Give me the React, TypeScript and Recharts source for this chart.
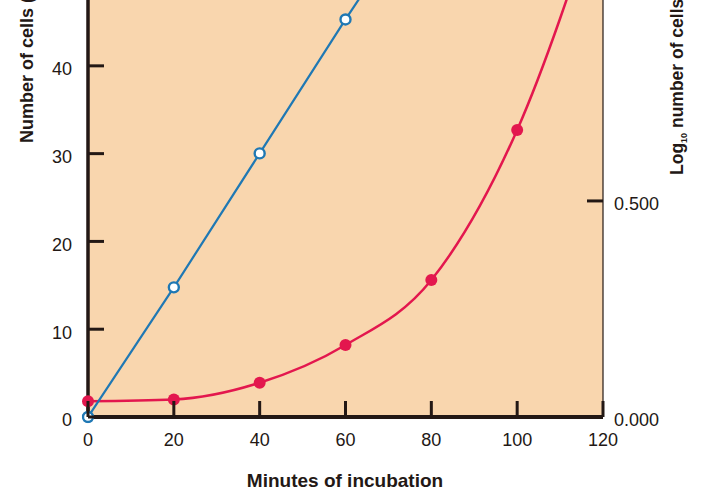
import React from 'react';
import { ComposedChart, Line, XAxis, YAxis, CartesianGrid, Label } from 'recharts';

// minutes of incubation
const minutes = [0, 20, 40, 60, 80, 100, 120];
// arithmetic number of cells (red curve, left axis) - last point runs off the top
const cellCounts = [1.8, 2.0, 3.9, 8.2, 15.6, 32.7, 60];
// log10 number of cells (blue line, right axis) - 80 min point runs off the top
const logCells = [0, 0.3, 0.61, 0.92, 1.22, null, null];

const xTicks = [0, 20, 40, 60, 80, 100, 120];
const leftTicks = [0, 10, 20, 30, 40];
const rightTicks = [0, 0.5];

const data = minutes.map((m, i) => ({ min: m, cells: cellCounts[i], log: logCells[i] }));

const INK = '#231815';
const PEACH = '#F9D6AE';
const BLUE = '#1F78B4';
const RED = '#E3174E';
const FONT = '"Liberation Sans", Arial, Helvetica, sans-serif';
const TICK_LEN = 16;

const LeftTick = (props: any) => {
  const { x, y, payload } = props;
  const ax = x + 16;
  return (
    <g>
      <line x1={ax} x2={ax + TICK_LEN} y1={y} y2={y} stroke={INK} strokeWidth={3} />
      <text x={x} y={y + 3} dy="0.35em" textAnchor="end" fontSize={18} fill={INK} fontFamily={FONT}>
        {payload.value}
      </text>
    </g>
  );
};

const BottomTick = (props: any) => {
  const { x, y, payload } = props;
  const ay = y - 16;
  return (
    <g>
      <line x1={x} x2={x} y1={ay} y2={ay - TICK_LEN} stroke={INK} strokeWidth={3} />
      <text x={x} y={y} dy="0.71em" textAnchor="middle" fontSize={18} fill={INK} fontFamily={FONT}>
        {payload.value}
      </text>
    </g>
  );
};

const RightTick = (props: any) => {
  const { x, y, payload } = props;
  const ax = x - 11;
  return (
    <g>
      <line x1={ax} x2={ax - TICK_LEN} y1={y} y2={y} stroke={INK} strokeWidth={3} />
      <text x={x} y={y + 3} dy="0.35em" textAnchor="start" fontSize={18} fill={INK} fontFamily={FONT}>
        {Number(payload.value).toFixed(3)}
      </text>
    </g>
  );
};

export default function App() {
  return (
    <div style={{ position: 'absolute', left: 0, top: 0, background: '#fff' }}>
      <ComposedChart width={701} height={502} data={data} margin={{ top: 0, right: 0, bottom: 0, left: 0 }}>
        <CartesianGrid yAxisId="left" horizontal={false} vertical={false} fill={PEACH} fillOpacity={1} stroke="none" />
        <XAxis
          dataKey="min"
          type="number"
          domain={[0, 120]}
          ticks={xTicks}
          allowDataOverflow
          height={85}
          tickSize={0}
          tickMargin={16}
          tick={BottomTick}
          tickLine={false}
          axisLine={{ stroke: INK, strokeWidth: 4 }}
        >
          <Label
            content={() => (
              <text x={345} y={487} textAnchor="middle" fontSize={19} fontWeight="bold" fill={INK} fontFamily={FONT}>
                Minutes of incubation
              </text>
            )}
          />
        </XAxis>
        <YAxis
          yAxisId="left"
          orientation="left"
          domain={[0, 47.5]}
          ticks={leftTicks}
          allowDataOverflow
          width={88}
          tickSize={0}
          tickMargin={16}
          tick={LeftTick}
          tickLine={false}
          axisLine={{ stroke: INK, strokeWidth: 3.5 }}
        >
          <Label
            content={() => (
              <text x={33} y={143} transform="rotate(-90 33 143)" textAnchor="start" fontSize={18} fontWeight="bold" fill={INK} fontFamily={FONT}>
                Number of cells (
              </text>
            )}
          />
        </YAxis>
        <YAxis
          yAxisId="right"
          orientation="right"
          domain={[0, 0.965]}
          ticks={rightTicks}
          allowDataOverflow
          width={98}
          tickSize={0}
          tickMargin={11}
          tick={RightTick}
          tickLine={false}
          axisLine={{ stroke: INK, strokeWidth: 1.2 }}
        >
          <Label
            content={() => (
              <text x={683} y={175} transform="rotate(-90 683 175)" textAnchor="start" fontSize={17.5} fontWeight="bold" fill={INK} fontFamily={FONT}>
                Log
                <tspan fontSize={9} dy={4}>10</tspan>
                <tspan dy={-4}> number of cells</tspan>
              </text>
            )}
          />
        </YAxis>
        <Line
          yAxisId="left"
          dataKey="cells"
          type="monotone"
          stroke={RED}
          strokeWidth={2.5}
          dot={{ r: 6, fill: RED, stroke: 'none', clipDot: false } as any}
          activeDot={false}
          isAnimationActive={false}
        />
        <Line
          yAxisId="right"
          dataKey="log"
          type="linear"
          stroke={BLUE}
          strokeWidth={2.2}
          dot={{ r: 5, fill: '#fff', stroke: BLUE, strokeWidth: 2.4, clipDot: false } as any}
          activeDot={false}
          isAnimationActive={false}
        />
      </ComposedChart>
    </div>
  );
}
